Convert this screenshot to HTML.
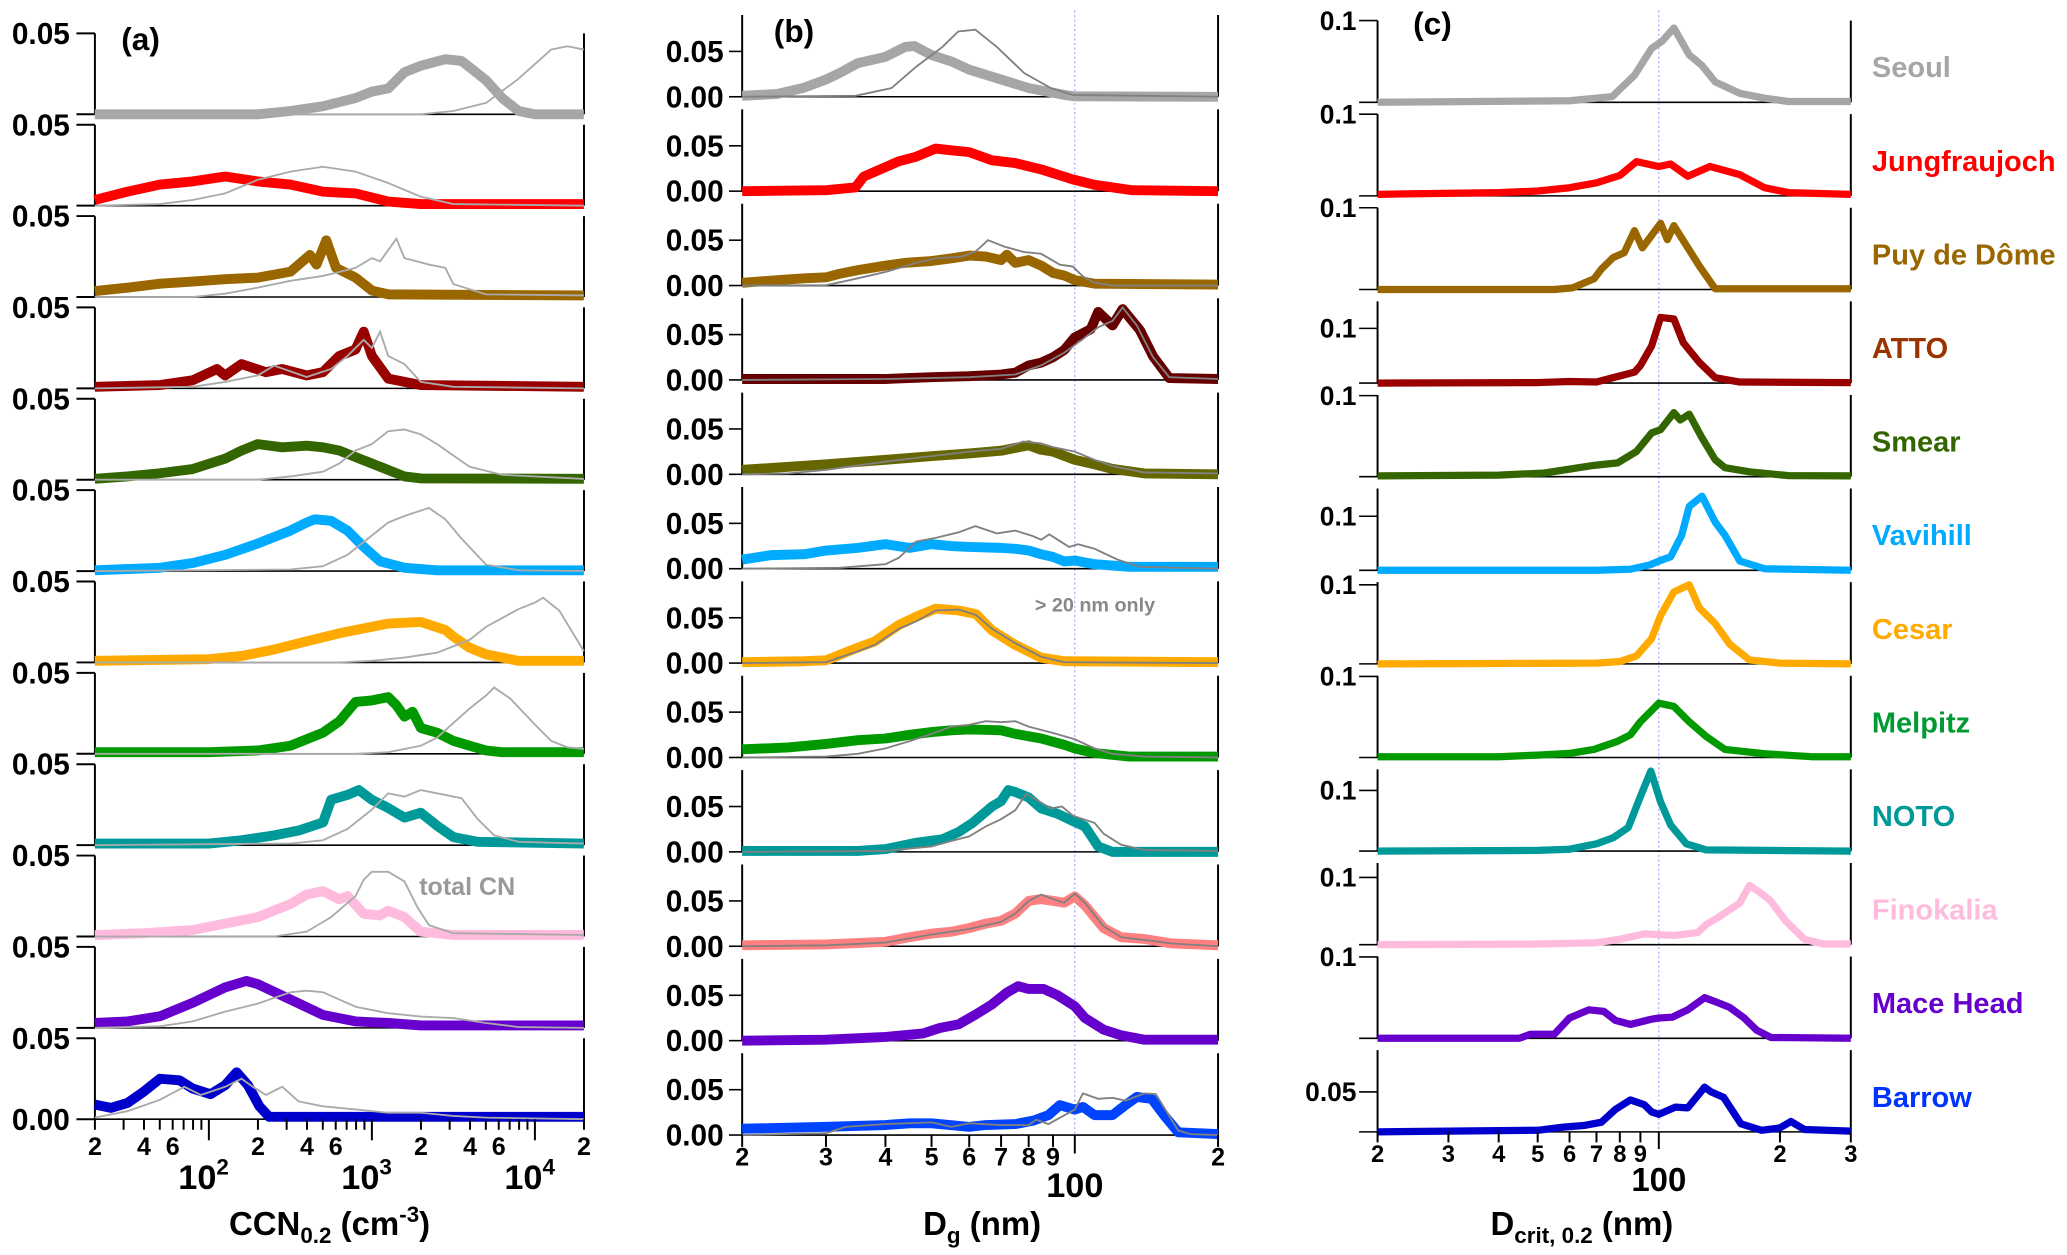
<!DOCTYPE html>
<html><head><meta charset="utf-8"><title>CCN panels</title>
<style>
html,body{margin:0;padding:0;background:#fff;}
svg{display:block;}
text{font-family:"Liberation Sans",sans-serif;font-weight:bold;}
</style></head>
<body>
<svg id="chart" xmlns="http://www.w3.org/2000/svg" width="2067" height="1255" viewBox="0 0 1568 952" preserveAspectRatio="none"></svg>
<script>
// ---------- data ----------
const sites = ['Seoul','Jungfraujoch','Puy de Dôme','ATTO','Smear','Vavihill','Cesar','Melpitz','NOTO','Finokalia','Mace Head','Barrow'];
const colorsA = ['#a6a6a6','#ff0000','#996600','#990000','#336600','#00aaff','#ffaa00','#009900','#009999','#ffbbdd','#6600cc','#0000cc'];
const colorsB = ['#a6a6a6','#ff0000','#996600','#660000','#666600','#00aaff','#ffaa00','#009900','#009999','#ff8080','#6600cc','#0044ff'];
const colorsC = ['#a6a6a6','#ff0000','#996600','#990000','#336600','#00aaff','#ffaa00','#009900','#009999','#ffbbdd','#6600cc','#0000cc'];
const labelColors = ['#a6a6a6','#ff0000','#996600','#993300','#336600','#00aaff','#ffaa00','#009933','#009999','#ffbbdd','#6600cc','#0033ff'];

// panel (a): [log10 CCN, fraction]
const ccnSeoul=[[1.3,0],[2.3,0],[2.5,.002],[2.7,.005],[2.9,.01],[3.0,.014],[3.1,.016],[3.2,.026],[3.3,.03],[3.45,.034],[3.55,.033],[3.7,.021],[3.8,.01],[3.9,.002],[4.0,0],[4.3,0]];
const cnSeoul=[[1.3,0],[3.3,0],[3.5,.002],[3.7,.007],[3.9,.022],[4.1,.04],[4.2,.042],[4.3,.04]];
const ccnJung=[[1.3,.0035],[1.5,.0086],[1.7,.013],[1.9,.015],[2.1,.018],[2.3,.015],[2.5,.013],[2.7,.0086],[2.9,.0076],[3.1,.0025],[3.3,.001],[4.3,.001]];
const cnJung=[[1.3,0],[1.7,.001],[1.9,.0035],[2.1,.0076],[2.3,.016],[2.5,.021],[2.7,.024],[2.9,.021],[3.1,.014],[3.3,.0055],[3.5,.001],[4.3,0]];
const ccnPuy=[[1.3,.0037],[1.5,.0058],[1.7,.0082],[1.9,.0095],[2.1,.011],[2.3,.012],[2.5,.0156],[2.62,.026],[2.66,.02],[2.72,.035],[2.78,.018],[2.9,.012],[3.0,.004],[3.1,.0016],[4.3,.001]];
const cnPuy=[[1.3,0],[1.9,0],[2.1,.002],[2.3,.0058],[2.5,.01],[2.7,.013],[2.9,.018],[3.0,.024],[3.05,.022],[3.15,.036],[3.2,.024],[3.35,.02],[3.45,.018],[3.5,.008],[3.7,.0016],[4.3,.001]];
const ccnAtto=[[1.3,.001],[1.7,.002],[1.9,.005],[2.05,.012],[2.1,.008],[2.2,.015],[2.35,.01],[2.45,.012],[2.6,.008],[2.7,.01],[2.8,.02],[2.9,.024],[2.95,.035],[3.0,.02],[3.1,.006],[3.3,.002],[4.3,.001]];
const cnAtto=[[1.3,0],[1.9,.001],[2.1,.004],[2.3,.008],[2.4,.014],[2.6,.007],[2.75,.012],[2.85,.02],[2.95,.03],[3.0,.025],[3.05,.035],[3.1,.02],[3.2,.015],[3.3,.004],[3.5,.001],[4.3,0]];
const ccnSmear=[[1.3,.0006],[1.5,.002],[1.7,.004],[1.9,.0066],[2.1,.013],[2.2,.018],[2.3,.022],[2.45,.02],[2.6,.021],[2.7,.02],[2.8,.018],[2.9,.014],[3.0,.01],[3.1,.006],[3.2,.002],[3.3,.0008],[4.3,.0006]];
const cnSmear=[[1.3,0],[2.3,0],[2.5,.002],[2.7,.005],[2.8,.01],[2.9,.018],[3.0,.022],[3.1,.03],[3.2,.031],[3.3,.028],[3.4,.022],[3.5,.015],[3.6,.008],[3.8,.003],[4.0,.002],[4.3,.0005]];
const ccnVav=[[1.3,.0005],[1.7,.002],[1.9,.005],[2.1,.01],[2.3,.017],[2.5,.025],[2.6,.03],[2.65,.032],[2.75,.031],[2.85,.025],[2.95,.015],[3.05,.006],[3.2,.002],[3.4,.0005],[4.3,.0005]];
const cnVav=[[1.3,0],[2.5,.001],[2.7,.003],[2.85,.01],[3.0,.022],[3.1,.03],[3.2,.034],[3.35,.039],[3.45,.032],[3.55,.02],[3.7,.004],[3.9,.0005],[4.3,0]];
const ccnCesar=[[1.3,.001],[2.0,.002],[2.2,.004],[2.4,.008],[2.6,.013],[2.8,.018],[2.9,.02],[3.1,.024],[3.3,.025],[3.45,.02],[3.5,.016],[3.6,.009],[3.7,.005],[3.9,.001],[4.3,.001]];
const cnCesar=[[1.3,0],[2.8,0],[3.0,.001],[3.2,.003],[3.4,.006],[3.6,.014],[3.7,.022],[3.9,.033],[4.0,.037],[4.05,.04],[4.15,.032],[4.3,.007]];
const ccnMelpitz=[[1.3,.001],[2.0,.001],[2.3,.002],[2.5,.005],[2.7,.013],[2.8,.02],[2.9,.032],[3.0,.033],[3.1,.035],[3.15,.03],[3.2,.023],[3.25,.026],[3.3,.016],[3.4,.013],[3.5,.008],[3.6,.005],[3.7,.002],[3.8,.001],[4.3,.001]];
const cnMelpitz=[[1.3,0],[2.9,0],[3.1,.001],[3.3,.005],[3.4,.01],[3.5,.019],[3.6,.028],[3.7,.036],[3.75,.041],[3.85,.034],[4.0,.018],[4.1,.008],[4.2,.004],[4.3,.003]];
const ccnNoto=[[1.3,.001],[2.0,.001],[2.2,.003],[2.4,.006],[2.55,.009],[2.7,.014],[2.75,.028],[2.85,.031],[2.92,.034],[3.0,.028],[3.1,.023],[3.2,.017],[3.3,.02],[3.4,.012],[3.5,.005],[3.65,.002],[4.3,.001]];
const cnNoto=[[1.3,0],[2.5,.001],[2.7,.003],[2.85,.01],[3.0,.022],[3.1,.032],[3.2,.03],[3.3,.034],[3.45,.031],[3.55,.029],[3.65,.016],[3.75,.006],[3.9,.002],[4.3,.001]];
const ccnFino=[[1.3,.0008],[1.6,.002],[1.9,.004],[2.1,.008],[2.3,.012],[2.5,.02],[2.6,.026],[2.7,.028],[2.8,.023],[2.85,.025],[2.95,.014],[3.05,.013],[3.1,.016],[3.2,.012],[3.3,.003],[3.5,.001],[4.3,.001]];
const cnFino=[[1.3,0],[2.4,0],[2.6,.003],[2.75,.012],[2.9,.025],[2.95,.035],[3.0,.04],[3.1,.04],[3.2,.034],[3.28,.018],[3.35,.007],[3.5,.002],[4.3,.001]];
const ccnMace=[[1.3,.003],[1.5,.004],[1.7,.0072],[1.9,.0155],[2.1,.025],[2.23,.029],[2.3,.027],[2.5,.0175],[2.7,.008],[2.9,.004],[3.1,.003],[3.3,.0015],[4.3,.0015]];
const cnMace=[[1.3,0],[1.7,.001],[1.9,.004],[2.1,.01],[2.3,.015],[2.5,.022],[2.6,.023],[2.7,.022],[2.9,.013],[3.1,.009],[3.3,.007],[3.5,.006],[3.7,.003],[3.9,.0005],[4.3,0]];
const ccnBarrow=[[1.3,.009],[1.4,.007],[1.5,.01],[1.6,.017],[1.7,.025],[1.82,.024],[1.9,.019],[2.01,.0155],[2.1,.021],[2.17,.029],[2.24,.021],[2.31,.008],[2.37,.0015],[4.3,.0015]];
const cnBarrow=[[1.3,.001],[1.5,.005],[1.7,.012],[1.85,.02],[1.95,.015],[2.1,.02],[2.2,.025],[2.27,.02],[2.35,.015],[2.45,.02],[2.55,.011],[2.7,.008],[2.9,.006],[3.1,.004],[3.3,.004],[3.5,.002],[3.7,.001],[4.3,0]];

// panel (b): [Dg nm, fraction]
const dgSeoul=[[20,.001],[23.7,.003],[27,.01],[30,.019],[32,.026],[35,.037],[40,.044],[44,.055],[46,.056],[50,.046],[55,.039],[60,.03],[70,.019],[80,.0096],[95,.002],[100,.0005],[200,0]];
const dgTotSeoul=[[20,0],[34.6,.001],[41.2,.0096],[46.4,.033],[52.7,.055],[56.9,.072],[61.8,.074],[68.6,.055],[78.3,.026],[89,.0096],[99,.002],[200,0]];
const dgJung=[[20,0],[30,.001],[34.6,.004],[36,.016],[42.7,.033],[46.4,.038],[51,.047],[55,.045],[60,.043],[67,.034],[75,.031],[85,.024],[99,.013],[110,.007],[132,.001],[200,0]];
const dgTotJung=[];
const dgPuy=[[20,.003],[23.7,.006],[27,.008],[30,.009],[32,.013],[35,.017],[40,.022],[44,.025],[50,.027],[55,.03],[60,.033],[65,.032],[70,.028],[72,.034],[75,.025],[80,.028],[85,.022],[90,.014],[95,.011],[100,.006],[110,.002],[200,.001]];
const dgTotPuy=[[20,0],[30,.0005],[33,.005],[40,.015],[46.4,.025],[51,.03],[58,.032],[62,.038],[65.7,.05],[71,.043],[78,.037],[85,.035],[93,.023],[99,.021],[104,.01],[110,.003],[120,0],[200,0]];
const dgAtto=[[20,.001],[40,.001],[50,.003],[60,.004],[70,.006],[75,.008],[80,.016],[85,.019],[90,.025],[95,.033],[100,.047],[108,.056],[112,.075],[120,.06],[126,.078],[137,.055],[146,.026],[158,.002],[200,.001]];
const dgTotAtto=[[20,0],[40,.001],[60,.003],[75,.006],[85,.016],[95,.03],[104,.045],[112,.058],[120,.065],[126,.08],[135,.06],[146,.025],[158,.003],[200,.001]];
const dgSmear=[[20,.005],[30,.011],[40,.016],[50,.02],[60,.023],[70,.026],[80,.032],[85,.027],[90,.025],[100,.016],[110,.011],[120,.006],[140,.001],[200,0]];
const dgTotSmear=[[20,0],[25,.001],[30,.005],[40,.014],[50,.02],[60,.025],[70,.028],[78,.036],[85,.034],[90,.03],[100,.025],[110,.016],[120,.009],[140,.002],[200,.001]];
const dgVav=[[20,.01],[23,.015],[27,.016],[30,.02],[35,.023],[40,.027],[45,.023],[50,.027],[55,.025],[60,.024],[70,.023],[75,.022],[80,.02],[85,.016],[90,.013],[95,.008],[100,.009],[110,.005],[130,.002],[200,.002]];
const dgTotVav=[[20,0],[32,.001],[40,.005],[42.7,.012],[46.4,.03],[51,.034],[56.9,.04],[61.8,.047],[68.6,.039],[75,.042],[81.5,.036],[85,.032],[88.4,.038],[97.3,.024],[101.6,.027],[110,.022],[123,.01],[137,.002],[200,0]];
const dgCesar=[[20,.001],[27,.002],[30,.003],[34.6,.016],[38,.024],[42.7,.042],[46.4,.051],[51,.06],[57,.058],[62,.054],[67,.036],[75,.02],[85,.006],[95,.002],[200,.001]];
const dgTotCesar=[[20,0],[30,.001],[34.6,.012],[38,.02],[42.7,.038],[46.4,.046],[51,.058],[57,.059],[62,.053],[67,.038],[75,.022],[85,.007],[95,.001],[200,0]];
const dgMelpitz=[[20,.009],[25,.011],[30,.015],[35,.019],[40,.021],[45,.025],[50,.028],[55,.03],[60,.031],[70,.03],[75,.026],[85,.021],[95,.014],[100,.01],[110,.005],[130,.001],[200,.001]];
const dgTotMelpitz=[[20,0],[30,.001],[35,.004],[40,.01],[45,.018],[50,.026],[55,.034],[60,.036],[65,.04],[70,.039],[75,.04],[80,.034],[90,.027],[100,.02],[110,.01],[120,.004],[140,.001],[200,0]];
const dgNoto=[[20,.001],[35,.001],[40,.003],[46.4,.01],[52.7,.014],[57,.022],[61,.032],[67,.05],[70,.056],[72.5,.068],[75,.066],[80,.06],[85,.048],[92,.042],[99,.034],[105,.028],[112,.006],[120,0],[200,0]];
const dgTotNoto=[[20,0],[40,.001],[50,.006],[55,.012],[60,.017],[65,.028],[70,.036],[75,.046],[79,.064],[84,.056],[89,.048],[94,.05],[99,.04],[104,.036],[110,.032],[115,.02],[125,.008],[140,.002],[200,.001]];
const dgFino=[[20,.001],[30,.002],[40,.005],[45,.01],[50,.014],[55,.016],[60,.02],[65,.025],[70,.028],[75,.036],[80,.05],[85,.052],[90,.05],[95,.048],[100,.055],[105,.045],[115,.02],[125,.01],[140,.008],[160,.003],[200,.001]];
const dgTotFino=[[20,0],[30,.001],[40,.004],[50,.013],[60,.019],[70,.027],[75,.036],[80,.05],[85,.057],[90,.052],[95,.048],[100,.058],[105,.048],[115,.022],[125,.01],[140,.007],[160,.003],[200,0]];
const dgMace=[[20,0],[30,.001],[40,.004],[48,.008],[52,.014],[57,.018],[62,.029],[67,.04],[72,.053],[76,.06],[80,.057],[86,.057],[92,.05],[100,.038],[105,.025],[115,.012],[125,.006],[140,.001],[200,.001]];
const dgTotMace=[];
const dgBarrow=[[20,.007],[30,.009],[40,.011],[45,.013],[50,.013],[60,.009],[65,.011],[75,.012],[82,.016],[88,.022],[93,.033],[100,.028],[104,.031],[110,.022],[115,.022],[120,.022],[127,.032],[135,.042],[145,.04],[155,.02],[165,.003],[200,.001]];
const dgTotBarrow=[[20,0],[30,.002],[33,.009],[40,.012],[50,.014],[55,.009],[60,.013],[70,.011],[80,.011],[83,.017],[88,.012],[100,.028],[104,.046],[112,.04],[120,.041],[128,.038],[140,.046],[148,.045],[165,.005],[175,.001],[200,0]];

// panel (c): [Dcrit nm, fraction]
const dcSeoul=[[20,0],[60,.002],[76.6,.007],[87,.033],[96,.066],[102,.075],[109,.091],[119,.058],[128,.045],[138,.025],[159,.011],[183,.005],[210,.001],[300,.001]];
const dcJung=[[20,.002],[40,.004],[50,.006],[60,.01],[70,.016],[80,.025],[88,.042],[100,.036],[107,.039],[118,.024],[134,.036],[159,.026],[183,.01],[210,.004],[300,.002]];
const dcPuy=[[20,0],[55,0],[61,.002],[69,.013],[72,.025],[77,.039],[82,.045],[87,.072],[91,.051],[101,.081],[105,.061],[109,.078],[126,.029],[138,.001],[300,.001]];
const dcAtto=[[20,0],[50,.001],[60,.003],[70,.002],[77,.01],[87,.02],[90,.032],[96,.068],[101,.12],[109,.117],[115,.074],[126,.038],[138,.01],[159,.002],[300,.001]];
const dcSmear=[[20,.001],[40,.002],[52,.0045],[69,.014],[79,.017],[88,.031],[96,.054],[101,.058],[109,.079],[113,.07],[119,.077],[128,.048],[138,.021],[146,.011],[168,.006],[210,.0013],[300,.001]];
const dcVav=[[20,0],[70,0],[85,.002],[95,.01],[100,.017],[107,.025],[114,.065],[119,.118],[128,.137],[138,.089],[146,.065],[159,.017],[183,.003],[300,0]];
const dcCesar=[[20,0],[70,.001],[80,.003],[88,.01],[96,.032],[101,.061],[109,.091],[119,.1],[126,.071],[138,.051],[150,.025],[168,.005],[200,.001],[300,0]];
const dcMelpitz=[[20,.001],[40,.001],[50,.003],[60,.005],[69,.01],[79,.02],[85,.028],[90,.044],[100,.067],[109,.063],[119,.044],[131,.026],[146,.01],[183,.0045],[240,.001],[300,.001]];
const dcNoto=[[20,0],[50,.001],[60,.003],[70,.012],[77,.022],[84,.039],[90,.09],[95.5,.132],[101,.081],[107,.043],[117,.012],[131,.002],[300,0]];
const dcFino=[[20,0],[50,.001],[70,.003],[80,.008],[92,.016],[100,.015],[110,.014],[125,.018],[131,.03],[140,.04],[159,.062],[168,.088],[178,.078],[189,.066],[207,.035],[230,.008],[256,.001],[300,.001]];
const dcMace=[[20,0],[45,0],[48,.005],[55,.005],[60,.025],[67,.035],[73,.033],[78,.022],[85,.017],[95,.023],[100,.025],[108,.026],[118,.035],[130,.05],[138,.045],[150,.038],[163,.025],[175,.01],[190,.001],[300,0]];
const dcBarrow=[[20,0],[50,.002],[58,.006],[65,.008],[72,.012],[78,.028],[85,.04],[92,.034],[96,.025],[100,.022],[110,.031],[118,.03],[130,.056],[135,.05],[145,.043],[160,.01],[180,.002],[200,.005],[213,.013],[230,.003],[300,.001]];

const ccnSeries=[ccnSeoul,ccnJung,ccnPuy,ccnAtto,ccnSmear,ccnVav,ccnCesar,ccnMelpitz,ccnNoto,ccnFino,ccnMace,ccnBarrow];
const cnSeries=[cnSeoul,cnJung,cnPuy,cnAtto,cnSmear,cnVav,cnCesar,cnMelpitz,cnNoto,cnFino,cnMace,cnBarrow];
const dgSeries=[dgSeoul,dgJung,dgPuy,dgAtto,dgSmear,dgVav,dgCesar,dgMelpitz,dgNoto,dgFino,dgMace,dgBarrow];
const dgTotSeries=[dgTotSeoul,dgTotJung,dgTotPuy,dgTotAtto,dgTotSmear,dgTotVav,dgTotCesar,dgTotMelpitz,dgTotNoto,dgTotFino,dgTotMace,dgTotBarrow];
const dcSeries=[dcSeoul,dcJung,dcPuy,dcAtto,dcSmear,dcVav,dcCesar,dcMelpitz,dcNoto,dcFino,dcMace,dcBarrow];
const cTickValues=[0.1,0.1,0.1,0.1,0.1,0.1,0.1,0.1,0.1,0.1,0.1,0.05];
const cTickLabels=['0.1','0.1','0.1','0.1','0.1','0.1','0.1','0.1','0.1','0.1','0.1','0.05'];
const aTickLabels=['2','4','6','2','4','6','2','4','6','2'];
const aTickValues=[20,40,60,200,400,600,2000,4000,6000,20000];
const bcMinorLabels=['2','3','4','5','6','7','8','9'];

// ---------- layout (axis config) ----------
const NS='http://www.w3.org/2000/svg';
const svg=document.getElementById('chart');
const A={x0:72,x1:443,lmin:Math.log10(20),lmax:Math.log10(20000),b0:86.7,dy:69.3,px:61.4/0.05};
const B={x0:563,x1:924,lmin:Math.log10(20),lmax:Math.log10(200),b0:73.4,dy:71.6,px:34.4/0.05};
const C={x0:1045,x1:1404,lmin:Math.log10(20),lmax:Math.log10(300),b0:77.6,dy:71.0};
const cRowPx=[62,62,62,41.5,61.5,41,60,61.5,46,51,61.7,60.6]; // px per 0.1 per row

function mk(tag,attrs,parent){const e=document.createElementNS(NS,tag);for(const k in attrs)e.setAttribute(k,attrs[k]);(parent||svg).appendChild(e);return e;}
function xA(L){return A.x0+(L-A.lmin)/(A.lmax-A.lmin)*(A.x1-A.x0);}
function xB(d){return B.x0+(Math.log10(d)-B.lmin)/(B.lmax-B.lmin)*(B.x1-B.x0);}
function xC(d){return C.x0+(Math.log10(d)-C.lmin)/(C.lmax-C.lmin)*(C.x1-C.x0);}
function path(pts,fx,base,scale){return pts.map((p,i)=>(i?'L':'M')+fx(p[0]).toFixed(1)+' '+(base-p[1]*scale).toFixed(1)).join(' ');}
function line(x1,y1,x2,y2,w,c,g){return mk('line',{x1,y1,x2,y2,stroke:c||'#000','stroke-width':w||1},g);}
function txt(s,x,y,size,anchor,fill,g,len){const t=mk('text',{x,y,'font-size':size,'text-anchor':anchor||'start',fill:fill||'#000'},g);if(len){t.setAttribute('textLength',len);t.setAttribute('lengthAdjust','spacingAndGlyphs');}t.textContent=s;return t;}

// dotted reference lines
const refB=line(xB(100),8,xB(100),866,0.8,'#9a9aff');
refB.setAttribute('stroke-dasharray','1.5,2');


const refC=line(xC(100),8,xC(100),866,0.8,'#9a9aff');
refC.setAttribute('stroke-dasharray','1.5,2');



for(let i=0;i<12;i++){
  const slug=sites[i].toLowerCase().replace(/ /g,'-');
  // ----- panel a -----
  const ga=mk('g',{});
  
  
  const ba=A.b0+A.dy*i, ta=ba-0.05*A.px;
  line(A.x0,ta,A.x0,ba,1.5,'#000',ga);
  line(A.x1,ta,A.x1,ba,1.5,'#000',ga);
  line(A.x0,ba,A.x1,ba,1.2,'#000',ga);
  line(58,ta,A.x0,ta,1.5,'#000',ga);
  line(58,ba,A.x0,ba,1.5,'#000',ga);
  const la=txt('0.05',53,ta+8,23,'end','#000',ga,44);
  
  
  const pa=mk('path',{d:path(ccnSeries[i],x=>xA(x),ba,A.px),fill:'none',stroke:colorsA[i],'stroke-width':7.5,'stroke-linejoin':'round'},ga);
  
  
  const qa=mk('path',{d:path(cnSeries[i],x=>xA(x),ba,A.px),fill:'none',stroke:'#aaaaaa','stroke-width':1.4},ga);
  
  
  if(i===11){const z=txt('0.00',53,ba+8,23,'end','#000',ga,44);}

  // ----- panel b -----
  const gb=mk('g',{});
  
  
  const bb=B.b0+B.dy*i, tb=bb-62;
  line(B.x0,tb,B.x0,bb,1.5,'#000',gb);
  line(B.x1,tb,B.x1,bb,1.5,'#000',gb);
  line(B.x0,bb,B.x1,bb,1.2,'#000',gb);
  line(553,bb-0.05*B.px,B.x0,bb-0.05*B.px,1.2,'#000',gb);
  line(553,bb,B.x0,bb,1.2,'#000',gb);
  const lb1=txt('0.05',549,bb-0.05*B.px+8,23,'end','#000',gb,44);
  
  
  const lb0=txt('0.00',549,bb+8,23,'end','#000',gb,44);
  
  
  const pb=mk('path',{d:path(dgSeries[i],xB,bb,B.px),fill:'none',stroke:colorsB[i],'stroke-width':7.5,'stroke-linejoin':'round'},gb);
  
  
  if(dgTotSeries[i].length){
    const qb=mk('path',{d:path(dgTotSeries[i],xB,bb,B.px),fill:'none',stroke:'#808080','stroke-width':1.4},gb);
    
    
  }

  // ----- panel c -----
  const gc=mk('g',{});
  
  
  const bc=C.b0+C.dy*i, sc=cRowPx[i]/0.1, tc=bc-62;
  line(C.x0,Math.min(tc,bc-cTickValues[i]*sc),C.x0,bc,1.5,'#000',gc);
  line(C.x1,tc,C.x1,bc,1.5,'#000',gc);
  line(C.x0,bc,C.x1,bc,1.2,'#000',gc);
  line(1031,bc,C.x0,bc,1.2,'#000',gc);
  const yt=bc-cTickValues[i]*sc;
  line(1031,yt,C.x0,yt,1.2,'#000',gc);
  const lc=txt(cTickLabels[i],1029,yt+7,20,'end','#000',gc);
  
  
  const pc=mk('path',{d:path(dcSeries[i],xC,bc,sc),fill:'none',stroke:colorsC[i],'stroke-width':5.5,'stroke-linejoin':'round'},gc);
  
  
  const sn=txt(sites[i],1420,bc-19,22,'start',labelColors[i],gc);
  
  
}

// ---------- x axes ----------
const axA=mk('g',{});


const baseA=A.b0+A.dy*11;
for(let e=1;e<=4;e++)for(let m=1;m<=9;m++){const v=m*Math.pow(10,e);if(v<20||v>20000)continue;const x=xA(Math.log10(v));line(x,baseA,x,baseA+(m===1?16:8),1.5,'#000',axA);}
aTickValues.forEach((v,k)=>{txt(aTickLabels[k],xA(Math.log10(v)),baseA+27,19,'middle','#000',axA);});
[2,3,4].forEach(e=>{const t=txt('10',xA(e)-4,baseA+53,26,'middle','#000',axA);const s=mk('tspan',{dy:-11,'font-size':17},t);s.textContent=String(e);});
const tA=txt('CCN',250,937,25,'middle','#000',axA);
{const s1=mk('tspan',{dy:6,'font-size':17},tA);s1.textContent='0.2';const s2=mk('tspan',{dy:-6},tA);s2.textContent=' (cm';const s3=mk('tspan',{dy:-10,'font-size':17},tA);s3.textContent='-3';const s4=mk('tspan',{dy:10},tA);s4.textContent=')';}



const axB=mk('g',{});


const baseB=B.b0+B.dy*11;
[20,30,40,50,60,70,80,90,100,200].forEach(v=>{line(xB(v),baseB,xB(v),baseB+(v===100?14:9),1.5,'#000',axB);});
[20,30,40,50,60,70,80,90].forEach((v,k)=>txt(bcMinorLabels[k],xB(v),baseB+23,19,'middle','#000',axB));
txt('2',xB(200),baseB+23,19,'middle','#000',axB);
txt('100',xB(100),baseB+47,26,'middle','#000',axB);
const tB=txt('D',745,937,25,'middle','#000',axB);
{const s1=mk('tspan',{dy:6,'font-size':17},tB);s1.textContent='g';const s2=mk('tspan',{dy:-6},tB);s2.textContent=' (nm)';}



const axC=mk('g',{});


const baseC=C.b0+C.dy*11;
[20,30,40,50,60,70,80,90,100,200,300].forEach(v=>{line(xC(v),baseC,xC(v),baseC+(v===100?13:8),1.5,'#000',axC);});
[20,30,40,50,60,70,80,90].forEach((v,k)=>txt(bcMinorLabels[k],xC(v),baseC+23,18,'middle','#000',axC));
txt('2',xC(200),baseC+23,18,'middle','#000',axC);
txt('3',xC(300),baseC+23,18,'middle','#000',axC);
txt('100',xC(100),baseC+45,25,'middle','#000',axC);
const tC=txt('D',1200,937,25,'middle','#000',axC);
{const s1=mk('tspan',{dy:6,'font-size':17},tC);s1.textContent='crit, 0.2';const s2=mk('tspan',{dy:-6},tC);s2.textContent=' (nm)';}



// ---------- annotations ----------
const pl=[['(a)',92,38],['(b)',587,32],['(c)',1072,26]];
pl.forEach(p=>{const t=txt(p[0],p[1],p[2],24,'start','#000');

});
const an1=txt('total CN',318,679,19,'start','#999999');


const an2=txt('> 20 nm only',785,464,15,'start','#888888');


</script>
</body></html>
